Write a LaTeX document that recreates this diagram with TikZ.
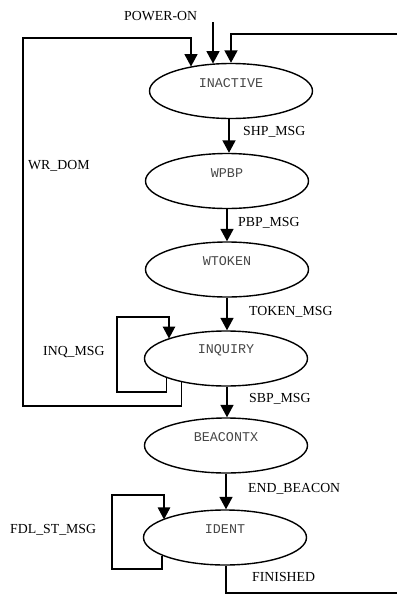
\documentclass[tikz,border=0pt]{standalone}
\usepackage{fontspec}
\setmainfont{Liberation Serif}
\newfontfamily\statefont{Liberation Mono}
\usetikzlibrary{arrows.meta,shapes.geometric}

\tikzset{
  state/.style={ellipse, draw, line width=1.4pt, minimum width=163pt,
    minimum height=55pt, inner sep=0pt},
  statetext/.style={font=\statefont\fontsize{13.4}{15}\selectfont,
    text=black!72, inner sep=0pt},
  evlabel/.style={font=\fontsize{13.8}{16}\selectfont, anchor=west, inner sep=0pt},
  trans/.style={line width=1.8pt, -{Triangle[width=13pt,length=12.5pt]}},
  loopline/.style={line width=1.2pt, -{Triangle[width=12.5pt,length=12pt]}},
  plainline/.style={line width=1.2pt},
}

\begin{document}
\begin{tikzpicture}[x=1pt, y=-1pt]
  \useasboundingbox (0,0) rectangle (397,595);

  % states
  \node[state] (inactive) at (231,91) {};
  \node[state] (wpbp)     at (227,181) {};
  \node[state] (wtoken)   at (227,269.5) {};
  \node[state] (inquiry)  at (226,358.5) {};
  \node[state] (beacontx) at (226,445.5) {};
  \node[state] (ident)    at (225,537.5) {};

  \node[statetext] (tinactive) at ([yshift=8pt]inactive.center) {INACTIVE};
  \node[statetext] (twpbp)     at ([yshift=8pt]wpbp.center) {WPBP};
  \node[statetext] (twtoken)   at ([yshift=8pt]wtoken.center) {WTOKEN};
  \node[statetext] (tinquiry)  at ([yshift=8pt]inquiry.center) {INQUIRY};
  \node[statetext] (tbeacontx) at ([yshift=8pt]beacontx.center) {BEACONTX};
  \node[statetext] (tident)    at ([yshift=8pt]ident.center) {IDENT};

  % entry points and bends
  \coordinate (pwr)   at (213,22);
  \coordinate (rin)   at (397,34);
  \coordinate (wr1)   at (23,406);
  \coordinate (wr2)   at (191,38);
  \coordinate (iq1)   at (117,392);
  \coordinate (iq2)   at (169,317);
  \coordinate (fd1)   at (112,569);
  \coordinate (fd2)   at (164,495);
  \coordinate (fin)   at (397,593);

  % transitions into INACTIVE
  \draw[trans] (pwr) -- (pwr |- inactive.124.4);
  \draw[trans] (rin) -| (inactive.north);
  \draw[trans] (inquiry.208.5) |- (wr1) |- (wr2) -- (wr2 |- inactive.149.6);

  % main chain
  \draw[trans] ([xshift=-2pt]inactive.south) -- ([xshift=-2pt]inactive.south |- wpbp.north);
  \draw[trans] (wpbp.south) -- (wpbp.south |- wtoken.north);
  \draw[trans] (wtoken.south) -- (wtoken.south |- inquiry.north);
  \draw[trans] ([xshift=1pt]inquiry.south) -- ([xshift=1pt]inquiry.south |- beacontx.north);
  \draw[trans] (beacontx.south) -- (beacontx.south |- ident.north);

  % self loops
  \draw[loopline] (inquiry.198.4) |- (iq1) |- (iq2) -- (iq2 |- inquiry.161);
  \draw[loopline] (ident.196) |- (fd1) |- (fd2) -- (fd2 |- ident.164);

  % exit
  \draw[plainline] ([xshift=1pt]ident.south) |- (fin);

  % event labels
  \node[evlabel] (lpwr) at (124,16.5) {POWER-ON};
  \node[evlabel] (lshp) at (243,132) {SHP\_MSG};
  \node[evlabel] (lwr)  at (28,166) {WR\_DOM};
  \node[evlabel] (lpbp) at (238,223) {PBP\_MSG};
  \node[evlabel] (ltok) at (249,311.7) {TOKEN\_MSG};
  \node[evlabel] (linq) at (43,351.7) {INQ\_MSG};
  \node[evlabel] (lsbp) at (249,399) {SBP\_MSG};
  \node[evlabel] (lend) at (248,489.3) {END\_BEACON};
  \node[evlabel] (lfdl) at (10,530) {FDL\_ST\_MSG};
  \node[evlabel] (lfin) at (252,576.7) {FINISHED};
\end{tikzpicture}
\end{document}
